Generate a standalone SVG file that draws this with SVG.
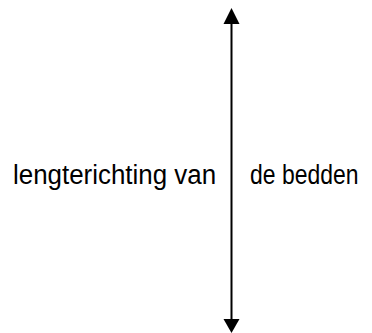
<svg xmlns="http://www.w3.org/2000/svg" width="372" height="333" viewBox="0 0 372 333">
<style>
.t{font-family:"Liberation Sans",Arial,sans-serif;font-size:27px;fill:#000}
</style>
<rect width="372" height="333" fill="#fff"/>
<g id="connectors">
<line x1="231.5" y1="22" x2="231.5" y2="321" stroke="#000" stroke-width="2"/>
<polygon points="231.5,8 239.5,24 223.5,24" fill="#000"/>
<polygon points="231.5,333 239.5,319 223.5,319" fill="#000"/>
</g>
<g id="label-left"><text class="t" transform="translate(13,184) scale(0.96,1)">lengterichting van</text></g>
<g id="label-right"><text class="t" transform="translate(250,184) scale(0.85,1)">de bedden</text></g>
</svg>
